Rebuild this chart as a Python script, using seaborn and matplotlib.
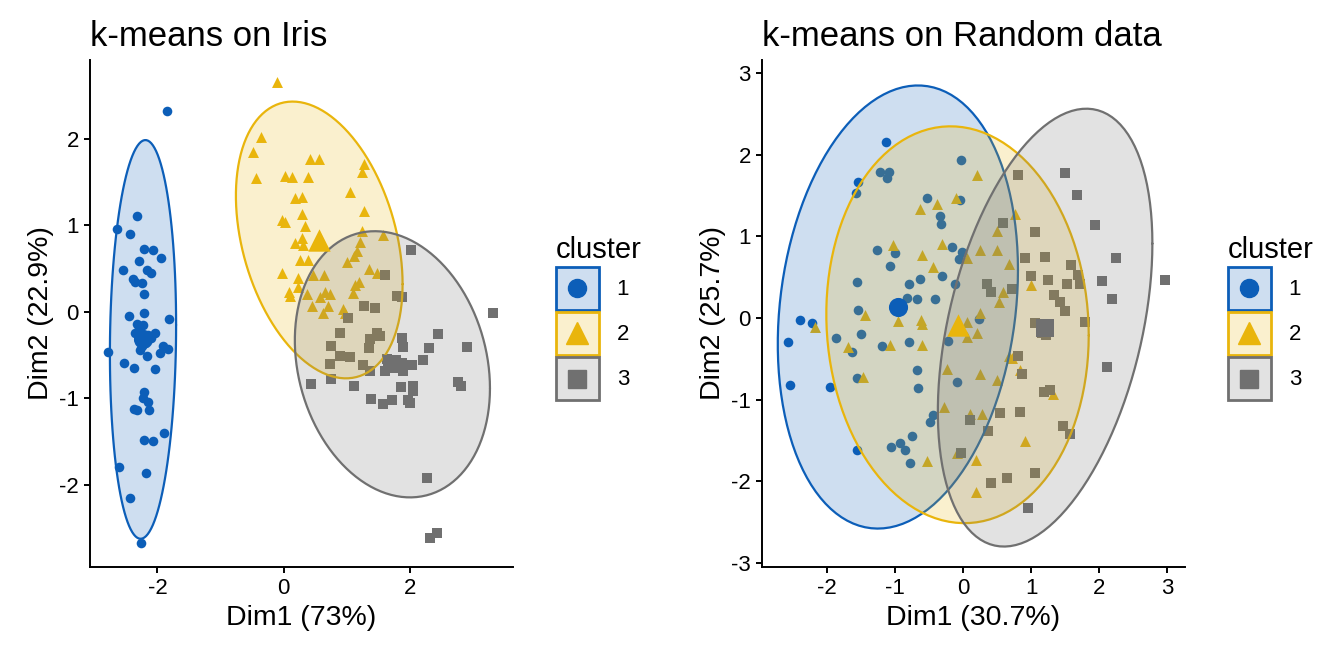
import numpy as np
import pandas as pd
import seaborn as sns
from matplotlib import pyplot as plt
from matplotlib.colors import to_rgb
from matplotlib.patches import Rectangle, Patch
from matplotlib.lines import Line2D

# ---- k-means on Iris (PCA scores) ----
iris_c1_x = [-1.85, -2.33, -2.64, -2.43, -2.21, -2.07, -1.94, -2.30, -2.54, -2.17, -2.11, -2.39, -2.36,
             -2.25, -2.21, -2.21, -2.45, -1.81, -2.33, -2.23, -2.04, -2.28, -2.15, -2.78, -2.28, -2.17,
             -1.96, -1.83, -1.91, -2.53, -2.38, -2.04, -2.21, -2.23, -2.15, -2.38, -2.33, -2.13, -1.90,
             -2.21, -2.07, -2.61, -2.19, -2.44, -2.26, -2.30, -2.20, -2.10, -2.25, -2.35]
iris_c1_y = [2.32, 1.11, 0.96, 0.90, 0.72, 0.71, 0.62, 0.59, 0.48, 0.48, 0.45, 0.38, 0.34,
             0.33, 0.20, -0.02, -0.05, -0.08, -0.14, -0.15, -0.25, -0.29, -0.27, -0.47, -0.44, -0.51,
             -0.48, -0.43, -0.40, -0.59, -0.65, -0.66, -0.93, -1.00, -1.04, -1.12, -1.13, -1.14, -1.40,
             -1.48, -1.49, -1.79, -1.86, -2.15, -2.67, -0.20, -0.35, -0.30, -0.40, -0.25]
iris_c2_x = [-0.10, -0.36, -0.48, -0.44, 0.42, 0.57, 0.02, 0.14, 0.38, 1.28, 1.24, 0.18, 0.30, 1.06,
             0.29, 1.27, -0.03, 0.02, 0.34, 0.18, 0.29, 0.31, 1.24, 1.58, 1.21, 0.26, 0.39, 1.00,
             1.11, 1.17, -0.03, 0.23, 0.47, 0.64, 1.35, 1.48, 0.23, 0.08, 0.10, 0.37, 0.66, 0.73,
             0.58, 1.13, 1.19, 1.10, 0.45, 0.71, 0.63, 0.95, 0.98]
iris_c2_y = [2.65, 2.02, 1.85, 1.55, 1.76, 1.77, 1.57, 1.56, 1.56, 1.71, 1.62, 1.31, 1.33, 1.38,
             1.13, 1.16, 1.06, 1.04, 0.99, 0.79, 0.85, 0.77, 0.93, 0.89, 0.81, 0.60, 0.60, 0.58,
             0.64, 0.70, 0.45, 0.39, 0.43, 0.43, 0.49, 0.45, 0.29, 0.23, 0.18, 0.20, 0.23, 0.20,
             0.17, 0.31, 0.34, 0.22, 0.07, 0.07, -0.02, 0.03, -0.02]
iris_c3_x = [2.02, 1.61, 1.80, 1.88, 3.32, 1.27, 1.45, 1.03, 0.89, 1.48, 1.53, 1.37, 1.35, 1.88,
             1.89, 2.45, 2.31, 2.91, 0.75, 0.89, 1.06, 0.74, 1.26, 1.37, 1.64, 1.88, 2.03, 1.61,
             1.90, 2.22, 0.43, 0.75, 1.11, 1.86, 2.05, 2.06, 2.77, 2.81, 1.38, 1.58, 1.72, 1.98,
             2.01, 2.27, 2.33, 2.44, 1.72, 1.82]
iris_c3_y = [0.71, 0.42, 0.18, 0.17, -0.02, 0.07, 0.04, -0.07, -0.25, -0.25, -0.28, -0.32, -0.42, -0.30,
             -0.41, -0.26, -0.42, -0.41, -0.40, -0.51, -0.52, -0.60, -0.62, -0.69, -0.55, -0.59, -0.61, -0.69,
             -0.69, -0.56, -0.84, -0.78, -0.86, -0.87, -0.86, -0.92, -0.81, -0.86, -1.01, -1.07, -1.02, -1.02,
             -1.05, -1.92, -2.62, -2.56, -0.58, -0.65]

# ---- k-means on Random data ----
rand_c1_x = [-1.13, -1.22, -1.10, -1.12, -1.55, -1.58, -0.03, -0.53, -0.05, -0.35, -0.33, -1.27, -1.01,
             -1.08, -0.17, -0.02, -0.07, -1.56, -0.80, -0.63, -0.31, -0.12, -0.68, -0.41, -0.83, -1.55,
             -2.40, -2.23, -2.58, -1.87, -1.50, -1.64, -1.20, -0.80, -0.22, -2.55, -1.96, -1.56, -0.68,
             -0.67, -0.09, -0.45, -0.49, -1.56, -1.07, -0.93, -0.86, -0.76, -0.79, 0.23]
rand_c1_y = [2.15, 1.79, 1.79, 1.71, 1.66, 1.53, 1.93, 1.47, 1.45, 1.25, 1.15, 0.83, 0.79,
             0.64, 0.87, 0.81, 0.72, 0.44, 0.42, 0.48, 0.51, 0.42, 0.23, 0.23, 0.25, 0.10,
             -0.02, -0.06, -0.30, -0.25, -0.20, -0.42, -0.34, -0.30, -0.28, -0.82, -0.85, -0.74, -0.64,
             -0.86, -0.79, -1.19, -1.27, -1.62, -1.58, -1.53, -1.62, -1.44, -1.78, -0.01]
rand_c2_x = [-0.64, -0.39, -0.11, -1.03, -0.32, -0.61, -0.44, 0.05, -1.44, -0.96, -0.62, -0.61, -2.18,
             -1.70, -1.08, -0.61, -1.47, -0.24, -0.28, -0.53, -0.09, 0.05, 0.06, 0.20, 0.76, 0.50,
             0.24, 0.49, 0.67, 1.00, 0.59, 0.53, 0.24, 0.20, 0.67, 0.72, 0.83, 0.24, 0.49, 1.32,
             0.10, 0.28, 0.91, 0.18, 0.19]
rand_c2_y = [1.34, 1.40, 1.47, 0.89, 0.91, 0.77, 0.63, 0.73, 0.04, -0.04, -0.02, -0.07, -0.11,
             -0.36, -0.33, -0.33, -0.72, -0.63, -1.09, -1.75, -1.66, -0.05, -0.23, 1.75, 1.27, 1.07,
             0.83, 0.83, 0.66, 0.40, 0.32, 0.20, 0.06, -0.19, -0.47, -0.49, -0.64, -0.69, -0.76, -0.93,
             -1.18, -1.18, -1.51, -1.74, -2.13]
rand_c3_x = [0.81, 1.49, 1.67, 1.93, 0.59, 1.06, 0.90, 1.20, 1.58, 2.24, 0.99, 1.25, 1.53, 1.68,
             1.71, 2.04, 0.35, 0.41, 0.72, 1.34, 1.42, 1.50, 2.19, 1.79, 1.06, 1.22, 2.97, 2.12,
             0.81, 0.86, 1.18, 1.27, 0.54, 0.83, 0.10, 0.36, 1.47, 1.57, -0.04, 1.05, 0.41, 0.64,
             0.95, 1.16]
rand_c3_y = [1.75, 1.77, 1.51, 1.14, 1.16, 1.05, 0.73, 0.75, 0.65, 0.73, 0.51, 0.47, 0.42, 0.53,
             0.42, 0.45, 0.42, 0.32, 0.35, 0.28, 0.20, 0.08, 0.23, -0.05, -0.06, -0.21, 0.47, -0.60,
             -0.47, -0.69, -0.91, -0.88, -1.16, -1.15, -1.25, -1.38, -1.32, -1.42, -1.65, -1.90, -2.02, -1.96,
             -2.33, -0.18]

clusters = ["1", "2", "3"]
colors = ["#0C5EB8", "#E9B50C", "#707070"]
markers = {"1": "o", "2": "^", "3": "s"}
point_size = {"1": 48, "2": 62, "3": 44}
center_size = {"1": 190, "2": 260, "3": 180}
key_ms = {"1": 13, "2": 16, "3": 13}


def make_df(xs, ys):
    parts = []
    for k, x, y in zip(clusters, xs, ys):
        parts.append(pd.DataFrame({"Dim1": x, "Dim2": y, "cluster": k}))
    return pd.concat(parts, ignore_index=True)


def norm_ellipse(x, y, level=0.95, segments=120):
    # same idea as ggplot2 stat_ellipse(type = "norm")
    x = np.asarray(x)
    y = np.asarray(y)
    d = len(x) - 1
    fq = d / 2 * ((1 - level) ** (-2 / d) - 1)  # F(2, d) quantile
    r = np.sqrt(2 * fq)
    L = np.linalg.cholesky(np.cov(x, y))
    t = np.linspace(0, 2 * np.pi, segments)
    circ = np.column_stack([np.cos(t), np.sin(t)])
    pts = np.array([x.mean(), y.mean()]) + r * circ @ L.T
    return pts[:, 0], pts[:, 1]


class BoxKeyHandler:
    """filled, outlined square key with the cluster marker in the middle"""
    def legend_artist(self, legend, orig_handle, fontsize, handlebox):
        box, mk = orig_handle
        x0, y0 = -handlebox.xdescent, -handlebox.ydescent
        w, h = handlebox.width, handlebox.height
        tr = handlebox.get_transform()
        rect = Rectangle((x0, y0), w, h, facecolor=box.get_facecolor(),
                         edgecolor=box.get_edgecolor(), linewidth=2, transform=tr)
        dot = Line2D([x0 + w / 2], [y0 + h / 2], linestyle="", marker=mk.get_marker(),
                     color=mk.get_color(), markersize=mk.get_markersize(), transform=tr)
        handlebox.add_artist(rect)
        handlebox.add_artist(dot)
        return rect


sns.set_style("ticks")
plt.rcParams["font.family"] = ["Liberation Sans", "DejaVu Sans"]
plt.rcParams["axes.unicode_minus"] = False
plt.rcParams["text.color"] = "black"
plt.rcParams["axes.labelcolor"] = "black"

fig = plt.figure(figsize=(13.44, 6.52), dpi=100)
ax1 = fig.add_axes([0.0670, 0.1304, 0.3147, 0.7776])
ax2 = fig.add_axes([0.5670, 0.1304, 0.3147, 0.7776])

panels = [
    (ax1, make_df([iris_c1_x, iris_c2_x, iris_c3_x], [iris_c1_y, iris_c2_y, iris_c3_y]),
     "k-means on Iris", "Dim1 (73%)", "Dim2 (22.9%)",
     (-3.07, 3.64), (-2.95, 2.91), [-2, 0, 2], [-2, -1, 0, 1, 2], 0.4135),
    (ax2, make_df([rand_c1_x, rand_c2_x, rand_c3_x], [rand_c1_y, rand_c2_y, rand_c3_y]),
     "k-means on Random data", "Dim1 (30.7%)", "Dim2 (25.7%)",
     (-2.96, 3.26), (-3.05, 3.16), [-2, -1, 0, 1, 2, 3], [-3, -2, -1, 0, 1, 2, 3], 0.9135),
]

for ax, df, title, xl, yl, xlim, ylim, xt, yt, legx in panels:
    # points
    for k, c in zip(clusters, colors):
        sub = df[df["cluster"] == k]
        sns.scatterplot(data=sub, x="Dim1", y="Dim2", ax=ax, color=c, marker=markers[k],
                        s=point_size[k], linewidth=0, legend=False, zorder=2)
    # confidence ellipses
    for k, c in zip(clusters, colors):
        sub = df[df["cluster"] == k]
        ex, ey = norm_ellipse(sub["Dim1"], sub["Dim2"])
        ax.fill(ex, ey, facecolor=c, alpha=0.2, zorder=3)
        ax.plot(ex, ey, color=c, lw=1.6, zorder=3)
    # cluster centers
    centers = df.groupby("cluster")[["Dim1", "Dim2"]].mean().reset_index()
    for k, c in zip(clusters, colors):
        sub = centers[centers["cluster"] == k]
        sns.scatterplot(data=sub, x="Dim1", y="Dim2", ax=ax, color=c, marker=markers[k],
                        s=center_size[k], linewidth=0, legend=False, zorder=4)

    ax.set_xlim(*xlim)
    ax.set_ylim(*ylim)
    ax.set_xticks(xt)
    ax.set_yticks(yt)
    ax.set_title(title, loc="left", fontsize=25, pad=10)
    ax.set_xlabel(xl, fontsize=20.5)
    ax.set_ylabel(yl, fontsize=20.5)
    ax.tick_params(labelsize=16, length=4.5, width=1.4, colors="black")
    for sp in ["left", "bottom"]:
        ax.spines[sp].set_linewidth(1.4)
        ax.spines[sp].set_color("black")
    sns.despine(ax=ax)

    handles = []
    for k, c in zip(clusters, colors):
        box = Patch(facecolor=(*to_rgb(c), 0.2), edgecolor=c)
        mk = Line2D([], [], linestyle="", marker=markers[k], color=c, markersize=key_ms[k])
        handles.append((box, mk))
    fig.legend(handles, clusters, title="cluster", loc="center left",
               bbox_to_anchor=(legx, 0.512), frameon=False, fontsize=16, title_fontsize=21,
               handler_map={tuple: BoxKeyHandler()},
               handlelength=1.94, handleheight=2.6, labelspacing=0.1, handletextpad=0.8,
               borderpad=0, borderaxespad=0, alignment="left")

fig.savefig("out.png", dpi=100)
